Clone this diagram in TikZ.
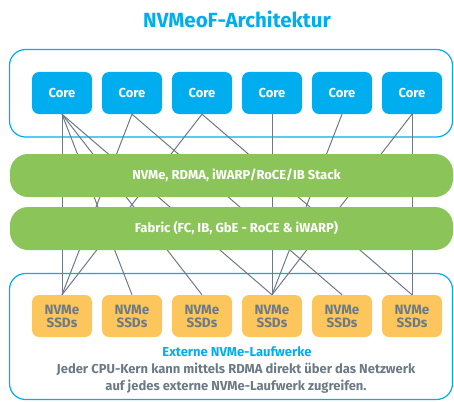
\documentclass[tikz,border=0pt]{standalone}
\usepackage{fontspec}
\setmainfont{Fira Sans}
\definecolor{nvblue}{RGB}{0,174,239}
\definecolor{nvgreen}{RGB}{139,197,90}
\definecolor{nvorange}{RGB}{252,198,92}
\definecolor{nvgray}{RGB}{108,122,134}
\begin{document}
\begin{tikzpicture}[x=1pt,y=-1pt,
  corebox/.style={rectangle, rounded corners=7pt, fill=nvblue, minimum width=60pt, minimum height=42pt, inner sep=0pt, text=white, font=\bfseries\fontsize{13}{15}\selectfont},
  ssdbox/.style={rectangle, rounded corners=7pt, fill=nvorange, minimum width=60pt, minimum height=42pt, inner sep=0pt, text=nvgray, align=center, font=\bfseries\fontsize{13.5}{14}\selectfont},
  link/.style={draw=nvgray, line width=1pt},
  bar/.style={rectangle, fill=nvgreen, rounded corners=18pt, minimum width=443pt, minimum height=43pt, inner sep=0pt},
  bartext/.style={text=white, font=\bfseries\fontsize{13}{15}\selectfont},
  frame/.style={draw=nvblue, line width=1.2pt, rounded corners=16pt}]
\useasboundingbox (0,0) rectangle (454,401);
% frames
\draw[frame] (9.5,49.5) rectangle (452.5,137);
\draw[frame] (9.5,273.5) rectangle (452.5,399.5);
% title
\node[text=nvblue, font=\bfseries\fontsize{20.5}{24}\selectfont] (title) at (237,19) {NVMeoF-Architektur};
% cores
\foreach \i/\x in {1/62,2/132,3/202,4/272,5/342,6/412}{
  \node[corebox] (c\i) at (\x,93) {Core};
  \node[ssdbox] (s\i) at (\x,316) {NVMe\\[-1pt]SSDs};
}
% links
\foreach \a/\b in {1/1,1/2,1/3,1/4,2/1,2/5,3/1,3/6,4/4,5/4,6/4,6/6}{
  \draw[link] (c\a.south) -- (s\b.north);
}
% bars
\node[bar] (stack) at (231.5,175.5) {};
\node[bar] (fabric) at (231.5,228.5) {};
\node[bartext] (stacktext) at (236.5,175.5) {NVMe, RDMA, iWARP/RoCE/IB Stack};
\node[bartext] (fabrictext) at (236.5,228.5) {Fabric (FC, IB, GbE - RoCE \& iWARP)};
% bottom texts
\node[text=nvblue, font=\bfseries\fontsize{13}{15}\selectfont] (ext) at (237,352) {Externe NVMe-Laufwerke};
\node[text=nvgray, align=center, font=\bfseries\fontsize{13}{16.5}\selectfont] (desc) at (236,378) {Jeder CPU-Kern kann mittels RDMA direkt über das Netzwerk\\auf jedes externe NVMe-Laufwerk zugreifen.};
\end{tikzpicture}
\end{document}
